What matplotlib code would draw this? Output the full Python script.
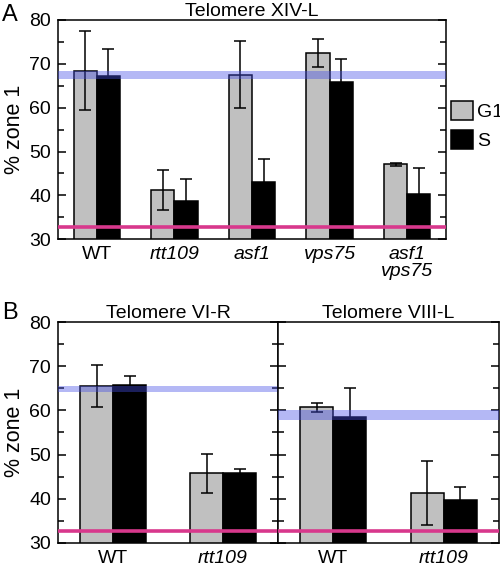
import matplotlib
matplotlib.use("Agg")
import matplotlib.pyplot as plt
from matplotlib.ticker import MultipleLocator
import numpy as np

plt.rcParams['font.family'] = ['Liberation Sans', 'DejaVu Sans']

# ---- data ----
strains_a = ["WT", "rtt109", "asf1", "vps75", "asf1\nvps75"]
g1_a = [68.4, 41.2, 67.5, 72.5, 47.1]
g1_err_a = [9.0, 4.5, 7.6, 3.2, 0.4]
s_a = [67.2, 38.7, 43.1, 65.9, 40.4]
s_err_a = [6.1, 5.0, 5.3, 5.1, 5.8]
band_a = (66.5, 68.4)

strains_b = ["WT", "rtt109"]
g1_b1 = [65.6, 45.7]
g1_err_b1 = [4.8, 4.4]
s_b1 = [65.8, 45.8]
s_err_b1 = [2.1, 1.0]
band_b1 = (64.1, 65.5)

g1_b2 = [60.7, 41.3]
g1_err_b2 = [1.0, 7.3]
s_b2 = [58.6, 39.7]
s_err_b2 = [6.6, 3.0]
band_b2 = (57.8, 60.2)

baseline = 32.7
titles = ["Telomere XIV-L", "Telomere VI-R", "Telomere VIII-L"]

GRAY = "#c0c0c0"
BAND = (0.27, 0.31, 0.90, 0.40)
MAG = "#d8388c"
FS = 14

fig = plt.figure(figsize=(5.0, 5.63), dpi=100)

def style(ax, left_labels=True):
    ax.set_ylim(30, 80)
    ax.yaxis.set_major_locator(MultipleLocator(10))
    ax.yaxis.set_minor_locator(MultipleLocator(5))
    ax.tick_params(axis='y', which='both', direction='in', left=True, right=True,
                   labelleft=left_labels, labelsize=FS, width=1.1, pad=5)
    ax.tick_params(axis='y', which='major', length=6)
    ax.tick_params(axis='y', which='minor', length=4)
    ax.tick_params(axis='x', which='both', length=0, labelsize=FS, pad=5)
    for sp in ax.spines.values():
        sp.set_linewidth(1.1)

def draw(ax, names, g1, g1e, s, se, band, title):
    x = np.arange(len(names))
    w = 0.3
    ax.bar(x - w / 2, g1, w, bottom=0, color=GRAY, edgecolor='black', linewidth=1.1, zorder=2,
           label="G1")
    ax.bar(x + w / 2, s, w, color='black', edgecolor='black', linewidth=1.1, zorder=2, label="S")
    ax.errorbar(x - w / 2, g1, yerr=g1e, fmt='none', ecolor='black', elinewidth=1.1,
                capsize=4, capthick=1.1, zorder=3)
    ax.errorbar(x + w / 2, s, yerr=se, fmt='none', ecolor='black', elinewidth=1.1,
                capsize=4, capthick=1.1, zorder=3)
    ax.axhspan(band[0], band[1], color=BAND, lw=0, zorder=4)
    ax.axhline(baseline, color=MAG, lw=2.6, zorder=5)
    ax.set_xlim(-0.5, len(names) - 0.5)
    ax.set_xticks(x)
    labs = ax.set_xticklabels(names, linespacing=1.0)
    for t, n in zip(labs, names):
        if n != "WT":
            t.set_style('italic')
    ax.set_title(title, fontsize=FS, pad=3)

# Panel A
axA = fig.add_axes([0.116, 0.575, 0.776, 0.3895])
draw(axA, strains_a, g1_a, g1_err_a, s_a, s_err_a, band_a, titles[0])
style(axA)
axA.set_ylabel("% zone 1", fontsize=15.5, labelpad=3)
h, l = axA.get_legend_handles_labels()
fig.legend(h, l, loc='upper left', bbox_to_anchor=(0.902, 1 - 101 / 563), frameon=False,
           fontsize=FS, handlelength=1.15, handleheight=1.15, handletextpad=0.2,
           labelspacing=0.45, borderpad=0, borderaxespad=0)

# Panel B
axB1 = fig.add_axes([0.116, 0.0361, 0.44, 0.3914])
draw(axB1, strains_b, g1_b1, g1_err_b1, s_b1, s_err_b1, band_b1, titles[1])
style(axB1)
axB1.set_ylabel("% zone 1", fontsize=15.5, labelpad=3)

axB2 = fig.add_axes([0.556, 0.0361, 0.442, 0.3914])
draw(axB2, strains_b, g1_b2, g1_err_b2, s_b2, s_err_b2, band_b2, titles[2])
style(axB2, left_labels=False)

fig.text(0.004, 1 - 4 / 563, "A", fontsize=17, va='top', ha='left')
fig.text(0.004, 1 - 302 / 563, "B", fontsize=17, va='top', ha='left')

fig.savefig("out.png", dpi=100)
